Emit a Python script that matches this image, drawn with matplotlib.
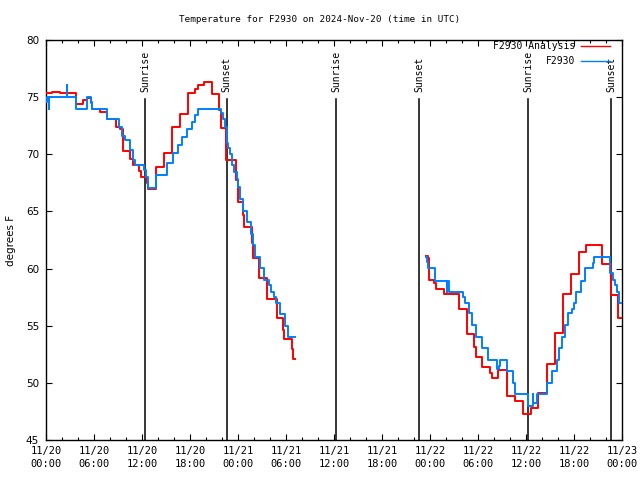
import numpy as np
import matplotlib
matplotlib.use("Agg")
import matplotlib.pyplot as plt
from matplotlib.ticker import MultipleLocator

# ---------------- data ----------------
title = "Temperature for F2930 on 2024-Nov-20 (time in UTC)"
ylabel = "degrees F"

x_tick_hours = [0, 6, 12, 18, 24, 30, 36, 42, 48, 54, 60, 66, 72]
x_tick_labels = ["11/20\n00:00", "11/20\n06:00", "11/20\n12:00", "11/20\n18:00",
                 "11/21\n00:00", "11/21\n06:00", "11/21\n12:00", "11/21\n18:00",
                 "11/22\n00:00", "11/22\n06:00", "11/22\n12:00", "11/22\n18:00",
                 "11/23\n00:00"]
y_ticks = [45, 50, 55, 60, 65, 70, 75, 80]

# hours since 2024-11-20 00:00 UTC ; None marks the end of a data run
analysis_hours = [0.0, 0.71, 1.75, 2.58, 3.71, 4.67, 5.08, 5.58, 5.79, 6.75, 7.58,
                  8.75, 9.25, 9.67, 10.5, 10.83, 11.67, 11.83, 12.58, 12.79, 13.71,
                  14.75, 15.75, 16.75, 17.7, 18.62, 18.95, 19.75, 20.7, 21.67, 21.83,
                  22.5, 23.71, 24.04, 24.67, 24.79, 25.71, 25.83, 26.67, 27.67, 28.83,
                  29.67, 29.79, 30.71, 30.83, 31.12,
                  47.5, 47.71, 47.92, 48.54, 48.71, 49.75, 51.63, 52.58, 53.5, 53.75,
                  54.54, 55.5, 55.71, 56.54, 57.58, 58.62, 59.58, 60.6, 61.54, 62.58,
                  63.6, 64.58, 65.58, 66.62, 67.5, 69.54, 70.58, 71.54, 72.0]
analysis_temps = [75.33, 75.45, 75.39, 75.33, 74.4, 74.75, 74.95, 74.6, 73.96, 73.73, 73.06,
                  72.42, 72.2, 70.32, 69.6, 69.07, 68.5, 68.05, 67.45, 66.94, 68.9,
                  70.1, 72.4, 73.5, 75.33, 75.7, 76.05, 76.3, 75.3, 73.9, 72.3,
                  69.5, 67.75, 65.8, 64.7, 63.6, 62.2, 60.93, 59.2, 57.35, 55.7,
                  54.6, 53.8, 53.0, 52.1, None,
                  61.1, 60.9, 59.0, 58.7, 58.18, 57.78, 56.43, 54.28, 53.17, 52.24,
                  51.4, 50.9, 50.45, 51.13, 48.85, 48.4, 47.28, 47.77, 49.14, 51.62,
                  54.39, 57.78, 59.53, 61.42, 62.03, 60.4, 57.69, 55.65, 55.65]

obs_hours = [0.0, 0.12, 0.35, 0.42, 2.6, 2.67, 3.71, 5.08, 5.62, 5.79, 7.58,
             9.12, 9.46, 9.88, 10.5, 10.92, 11.12, 12.25, 12.45, 12.79, 13.71,
             15.08, 15.92, 16.54, 16.96, 17.58, 18.21, 18.62, 19.04, 21.83, 22.08,
             22.38, 22.58, 22.79, 23.0, 23.29, 23.54, 23.83, 24.04, 24.25, 24.58,
             25.08, 25.58, 25.83, 26.12, 26.75, 27.29, 27.88, 28.08, 28.5, 28.75,
             29.25, 29.88, 30.29, 31.12,
             47.5, 47.58, 47.79, 48.62, 50.08, 50.17, 50.42, 52.17, 52.38, 52.88,
             53.2, 53.71, 54.46, 55.21, 56.4, 56.6, 56.75, 57.58, 58.33, 58.62,
             60.29, 60.83, 60.92, 61.33, 62.58, 63.29, 63.83, 64.17, 64.46, 64.88,
             65.29, 65.71, 66.0, 66.25, 66.83, 67.38, 68.33, 68.54, 70.5, 70.83,
             71.12, 71.42, 71.67, 72.0]
obs_temps = [74.6, 75.04, 74.0, 75.04, 76.06, 75.04, 74.0, 75.0, 74.5, 73.96, 73.06,
             72.42, 71.6, 71.25, 70.38, 69.5, 69.07, 68.6, 68.05, 67.03, 68.2,
             69.2, 70.1, 70.8, 71.5, 72.2, 72.8, 73.4, 74.0, 73.58, 73.06,
             72.42, 71.02, 70.53, 70.02, 69.06, 68.48, 67.8, 67.1, 66.06, 65.04,
             64.05, 63.03, 62.06, 61.04, 60.02, 59.0, 58.56, 57.98, 57.54, 56.96,
             56.0, 55.0, 53.98, None,
             61.04, 60.6, 60.02, 58.94, 57.98, 58.94, 57.98, 57.54, 57.0, 56.08,
             55.06, 53.98, 53.04, 52.0, 51.2, 51.48, 52.0, 51.0, 49.97, 49.0,
             47.98, 49.0, 48.2, 49.0, 49.97, 51.0, 52.0, 53.04, 53.98, 55.06,
             56.08, 56.5, 57.0, 57.98, 58.94, 60.02, 60.5, 61.04, 59.6, 59.0,
             58.56, 57.98, 57.0, 57.0]

sunrise_hours = [12.42, 36.27, 60.3]
sunset_hours = [22.6, 46.63, 70.65]

series_names = ["F2930 Analysis", "F2930"]
series_colors = ["#ff0000", "#0080ff"]

# ---------------- plot ----------------
mono = ["DejaVu Sans Mono"]
sans = ["DejaVu Sans"]

fig = plt.figure(figsize=(6.4, 4.8), dpi=100)
ax = fig.add_axes([46 / 640, 40 / 480, 576 / 640, 400 / 480])

def arr(v):
    return np.array([np.nan if x is None else x for x in v], dtype=float)

ax.step(analysis_hours, arr(analysis_temps), where="post", color=series_colors[0],
        lw=1.4, label=series_names[0], zorder=3)
ax.step(obs_hours, arr(obs_temps), where="post", color=series_colors[1],
        lw=1.4, label=series_names[1], zorder=4)

line_top = 74.85
label_base = 75.45
for h in sunrise_hours:
    ax.plot([h, h], [45, line_top], color="black", lw=1.1, zorder=2)
    ax.text(h, label_base, "Sunrise", rotation=90, ha="center", va="bottom",
            family=mono, fontsize=7)
for h in sunset_hours:
    ax.plot([h, h], [45, line_top], color="black", lw=1.1, zorder=2)
    ax.text(h, label_base, "Sunset", rotation=90, ha="center", va="bottom",
            family=mono, fontsize=7)

ax.set_xlim(0, 72)
ax.set_ylim(45, 80)
ax.set_xticks(x_tick_hours)
ax.set_xticklabels(x_tick_labels, family=mono, fontsize=7.5, linespacing=1.45)
ax.xaxis.set_minor_locator(MultipleLocator(2))
ax.set_yticks(y_ticks)
ax.set_yticklabels([str(v) for v in y_ticks], family=sans, fontsize=7.5)
ax.tick_params(which="both", direction="in", top=True, right=True, width=0.8, color="black")
ax.tick_params(which="major", length=4.5)
ax.tick_params(which="minor", length=2.2)
ax.tick_params(axis="x", pad=4)
ax.tick_params(axis="y", pad=5)
for s in ax.spines.values():
    s.set_linewidth(1.0)

ax.set_ylabel(ylabel, family=sans, fontsize=7.5, labelpad=7)

fig.text(0.5, 1 - 20 / 480, title, ha="center", va="center", family=mono, fontsize=6.7)

leg = ax.legend(loc="upper right", bbox_to_anchor=(1 - 12 / 576, 1 - 1 / 400),
                frameon=False, markerfirst=False, borderpad=0, borderaxespad=0,
                handlelength=3.0, handletextpad=0.6, labelspacing=0.55,
                prop={"family": mono, "size": 7})
for h in leg.get_lines():
    h.set_linewidth(1.0)

fig.savefig("out.png", dpi=100)
